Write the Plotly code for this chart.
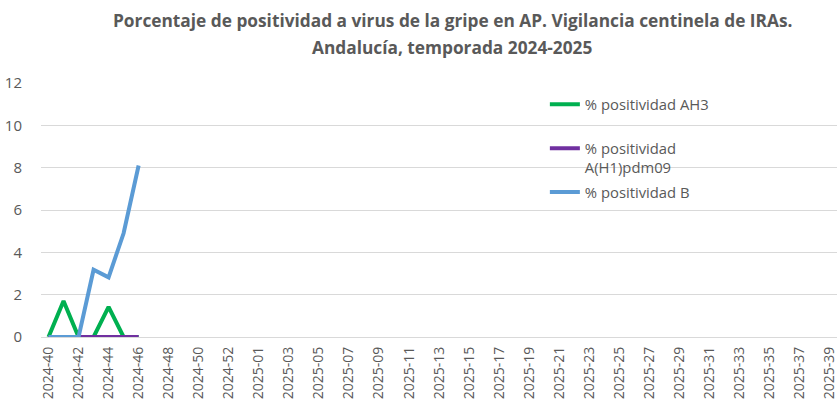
import plotly.graph_objects as go

weeks_2024 = [f"2024-{w}" for w in range(40, 54)]
weeks_2025 = [f"2025-{w:02d}" for w in range(1, 40)]
categories = weeks_2024 + weeks_2025

ah3 = [0, 1.7, 0, 0, 1.42, 0, 0]
h1pdm09 = [0, 0, 0, 0, 0, 0, 0]
b_vals = [0, 0, 0, 3.18, 2.82, 4.9, 8.1]

tick_labels = categories[::2]

title_lines = [
    "Porcentaje de positividad a virus de la gripe en AP. Vigilancia centinela de IRAs.",
    "Andalucía, temporada 2024-2025",
]

series_names = ["% positividad AH3", "% positividad<br>A(H1)pdm09", "% positividad B"]
series_values = [ah3, h1pdm09, b_vals]
series_colors = ["#00B050", "#7030A0", "#5B9BD5"]
legend_ids = ["legend", "legend2", "legend3"]
legend_tops = [0.980, 0.807, 0.634]

fig = go.Figure()
for name, vals, color, lg in zip(series_names, series_values, series_colors, legend_ids):
    fig.add_trace(go.Scatter(
        x=categories[:len(vals)], y=vals, mode="lines", name=name,
        line=dict(color=color, width=4), legend=lg,
    ))

font_family = "Open Sans"
TEXT = "#595959"
legend_common = dict(
    x=0.633, xanchor="left", yanchor="top",
    font=dict(size=14.8, color=TEXT, family=font_family),
    valign="top", bgcolor="rgba(0,0,0,0)",
)
layout_legends = {}
for lg, top in zip(legend_ids, legend_tops):
    layout_legends[lg] = dict(legend_common, y=top)

fig.update_layout(
    width=838, height=404,
    margin=dict(l=41, r=1, t=83, b=67, autoexpand=False),
    paper_bgcolor="white", plot_bgcolor="white",
    font=dict(family=font_family, color=TEXT),
    showlegend=True,
    **layout_legends,
)
for line, yc in zip(title_lines, [20, 47]):
    fig.add_annotation(
        text=f"<b>{line}</b>",
        xref="paper", yref="paper", x=(452 - 41) / 796, y=(337 - yc) / 254,
        xanchor="center", yanchor="middle", showarrow=False, align="center",
        font=dict(family=font_family, size=17.3, color=TEXT),
    )
fig.update_xaxes(
    type="category", categoryorder="array", categoryarray=categories,
    range=[-0.5, len(categories) - 0.5],
    tickmode="array", tickvals=tick_labels, ticktext=tick_labels,
    tickangle=-90, tickfont=dict(size=14, color=TEXT),
    showgrid=False, showline=False, zeroline=False, ticks="",
    automargin=False, ticklabelstandoff=6,
)
fig.update_yaxes(
    range=[0, 12], dtick=2, tickfont=dict(size=15, color=TEXT),
    showgrid=True, gridcolor="#D9D9D9", gridwidth=1,
    zeroline=True, zerolinecolor="#D9D9D9", zerolinewidth=1,
    showline=False, ticks="", ticklabelstandoff=18, automargin=False,
)

fig.write_html(
    "out.html",
    config={"displayModeBar": False},
    post_script="document.body.style.margin='0';document.body.style.padding='0';",
)
